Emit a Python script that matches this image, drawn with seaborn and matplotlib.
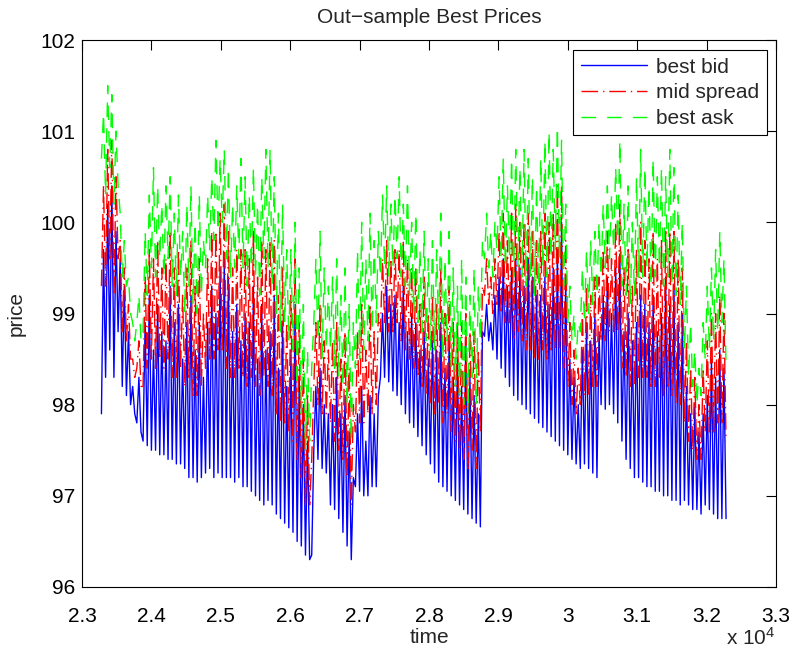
import numpy as np
import pandas as pd
import matplotlib
matplotlib.use("Agg")
import matplotlib.pyplot as plt
import seaborn as sns

# time grid: one sample every 30 time units, 301 samples
time = np.arange(301) * 30 + 23280

best_bid = [
    97.9, 99.7, 98.3, 100.2, 98.6, 100.4, 98.3, 99.9, 98.8, 99.6,
    98.2, 99.3, 98.1, 98.8, 98.0, 98.2, 97.9, 97.8, 98.3, 97.7,
    97.6, 98.9, 97.55, 99.2, 97.5, 98.6, 97.5, 99.1, 97.45, 98.8,
    97.45, 98.7, 97.4, 99.3, 97.4, 98.9, 97.35, 99.1, 97.35, 98.5,
    97.3, 98.9, 97.2, 99.2, 97.2, 98.6, 97.15, 98.9, 97.2, 98.3,
    97.25, 98.9, 97.3, 99.3, 97.2, 99.0, 97.25, 99.5, 97.2, 99.6,
    97.2, 99.4, 97.2, 98.8, 97.15, 99.1, 97.2, 98.7, 97.1, 99.0,
    97.1, 98.9, 97.05, 99.3, 97.0, 98.5, 96.95, 99.1, 96.9, 98.6,
    96.95, 98.8, 96.9, 99.2, 96.8, 98.4, 96.75, 98.9, 96.7, 98.2,
    96.65, 98.6, 96.6, 99.1, 96.5, 98.3, 96.45, 98.0, 96.35, 97.6,
    96.3, 96.35, 97.5, 98.2, 97.4, 98.4, 97.3, 98.0, 97.25, 97.9,
    96.9, 98.0, 96.85, 98.3, 96.75, 97.9, 96.6, 98.1, 96.45, 97.7,
    96.3, 97.2, 97.1, 97.9, 97.05, 98.2, 97.0, 97.6, 97.0, 98.1,
    97.1, 97.9, 97.1, 98.1, 98.3, 99.0, 98.3, 99.3, 98.25, 99.1,
    98.15, 99.2, 98.1, 98.9, 98.0, 99.3, 97.9, 98.8, 97.8, 99.0,
    97.75, 98.9, 97.65, 98.6, 97.55, 98.8, 97.45, 98.5, 97.35, 98.7,
    97.25, 98.6, 97.15, 98.9, 97.1, 98.4, 97.05, 98.7, 97.0, 98.3,
    96.95, 98.5, 96.9, 98.2, 96.85, 98.7, 96.8, 98.3, 96.75, 98.1,
    96.7, 97.9, 96.66, 98.8, 98.75, 99.1, 98.7, 98.9, 98.6, 99.2,
    98.5, 99.4, 98.4, 99.6, 98.3, 99.3, 98.2, 99.5, 98.1, 99.6,
    98.05, 99.5, 98.0, 99.3, 97.95, 99.6, 97.9, 99.4, 97.85, 99.2,
    97.8, 99.2, 97.75, 99.4, 97.7, 99.1, 97.65, 99.5, 97.6, 99.7,
    97.55, 100.0, 97.5, 99.4, 97.45, 98.5, 97.4, 98.3, 97.35, 98.0,
    97.3, 98.6, 97.35, 98.9, 97.3, 98.7, 97.25, 99.0, 97.2, 98.8,
    98.0, 99.2, 97.95, 99.4, 98.0, 99.0, 97.9, 99.5, 97.8, 99.65,
    97.6, 98.8, 97.4, 99.0, 97.3, 98.7, 97.2, 98.9, 97.2, 99.2,
    97.15, 99.1, 97.1, 98.9, 97.1, 99.2, 97.05, 98.8, 97.05, 99.0,
    97.0, 99.4, 97.0, 99.1, 96.95, 99.3, 96.95, 98.9, 96.9, 99.0,
    96.95, 98.2, 96.9, 97.9, 96.85, 98.0, 96.85, 97.7, 96.8, 97.9,
    96.9, 98.1, 96.85, 98.5, 96.8, 98.3, 96.75, 98.6, 96.75, 98.4,
    96.75,
]

mid_spread = [
    99.3, 100.4, 99.3, 100.8, 99.6, 100.9, 99.2, 100.5, 99.6, 99.8,
    98.8, 99.5, 98.7, 99.1, 98.5, 98.5, 98.3, 98.4, 98.7, 98.2,
    98.2, 99.4, 98.4, 99.7, 98.5, 99.6, 98.4, 99.8, 98.5, 99.5,
    98.4, 99.6, 98.5, 99.9, 98.3, 99.5, 98.3, 99.7, 98.4, 99.2,
    98.2, 99.5, 98.3, 99.8, 98.1, 99.3, 98.1, 99.6, 98.2, 99.0,
    98.4, 99.6, 98.5, 99.9, 98.5, 99.9, 98.6, 100.1, 98.6, 100.2,
    98.4, 99.9, 98.3, 99.5, 98.3, 99.7, 98.4, 99.7, 98.3, 99.7,
    98.2, 99.6, 98.3, 99.9, 98.2, 99.4, 98.1, 99.8, 98.3, 99.7,
    98.2, 99.8, 98.1, 99.8, 97.9, 99.2, 97.8, 99.5, 97.8, 98.9,
    97.7, 99.2, 97.6, 99.6, 97.4, 98.9, 97.2, 98.5, 96.9, 98.1,
    96.9, 97.4, 98.2, 98.9, 98.0, 99.1, 97.9, 98.7, 97.9, 98.6,
    97.8, 98.7, 97.6, 98.9, 97.5, 98.5, 97.4, 98.8, 97.2, 98.4,
    96.9, 98.0, 97.7, 98.8, 97.8, 99.1, 97.8, 98.6, 97.9, 99.1,
    97.9, 98.8, 98.0, 99.0, 98.8, 99.6, 98.9, 99.8, 98.8, 99.6,
    98.8, 99.7, 98.9, 99.7, 98.7, 99.8, 98.6, 99.6, 98.5, 99.5,
    98.4, 99.5, 98.3, 99.1, 98.2, 99.4, 98.1, 99.0, 98.0, 99.2,
    97.9, 99.1, 98.0, 99.5, 97.8, 99.0, 97.9, 99.3, 97.7, 98.9,
    97.6, 98.9, 97.5, 98.9, 97.4, 99.0, 97.3, 98.8, 97.5, 98.8,
    97.3, 98.6, 97.7, 99.3, 99.2, 99.6, 99.1, 99.4, 99.0, 99.6,
    99.1, 99.9, 99.0, 100.1, 98.9, 99.8, 98.9, 100.1, 98.7, 100.2,
    98.8, 100.0, 98.7, 100.0, 98.6, 100.1, 98.6, 99.9, 98.5, 99.8,
    98.5, 99.9, 98.6, 100.1, 98.5, 100.0, 98.6, 100.1, 98.6, 100.4,
    98.6, 100.4, 98.4, 99.8, 98.2, 98.9, 98.0, 98.6, 97.9, 98.4,
    98.0, 99.0, 98.1, 99.3, 98.1, 99.2, 98.2, 99.4, 98.2, 99.4,
    98.7, 99.7, 98.7, 99.9, 98.8, 99.6, 98.8, 100.0, 98.8, 100.2,
    98.4, 99.5, 98.3, 99.7, 98.2, 99.3, 98.2, 99.7, 98.3, 100.0,
    98.3, 99.8, 98.3, 99.6, 98.2, 99.9, 98.2, 99.6, 98.3, 99.8,
    98.1, 99.9, 98.2, 99.9, 98.1, 99.9, 98.0, 99.6, 98.0, 99.5,
    97.8, 98.7, 97.6, 98.4, 97.5, 98.3, 97.4, 98.0, 97.4, 98.4,
    97.7, 98.7, 97.7, 99.0, 97.7, 99.0, 97.8, 99.2, 97.8, 99.0,
    97.6,
]

best_ask = [
    100.7, 101.2, 100.3, 101.5, 100.6, 101.4, 100.2, 101.0, 100.4, 100.1,
    99.4, 99.8, 99.3, 99.4, 99.0, 98.9, 98.7, 98.9, 99.2, 98.7,
    98.8, 99.9, 99.2, 100.3, 99.5, 100.6, 99.4, 100.4, 99.6, 100.2,
    99.4, 100.4, 99.6, 100.5, 99.3, 100.1, 99.2, 100.3, 99.4, 99.9,
    99.0, 100.2, 99.3, 100.4, 99.1, 100.0, 99.0, 100.3, 99.2, 99.8,
    99.5, 100.3, 99.7, 100.5, 99.8, 100.9, 99.9, 100.7, 100.0, 100.8,
    99.6, 100.6, 99.4, 100.2, 99.5, 100.4, 99.6, 100.7, 99.5, 100.5,
    99.3, 100.3, 99.5, 100.6, 99.4, 100.2, 99.2, 100.5, 99.6, 100.8,
    99.5, 100.8, 99.3, 100.5, 99.0, 100.1, 98.8, 100.2, 98.9, 99.7,
    98.7, 99.7, 98.6, 100.0, 98.2, 99.5, 97.9, 99.1, 97.5, 98.6,
    97.6, 98.4, 98.9, 99.6, 98.7, 99.9, 98.5, 99.5, 98.6, 99.3,
    98.6, 99.4, 98.4, 99.6, 98.3, 99.2, 98.2, 99.5, 98.0, 99.1,
    97.6, 98.9, 98.4, 99.7, 98.5, 100.0, 98.6, 99.6, 98.7, 100.1,
    98.8, 99.8, 98.9, 99.9, 99.4, 100.3, 99.5, 100.4, 99.4, 100.2,
    99.5, 100.3, 99.6, 100.5, 99.4, 100.2, 99.3, 100.4, 99.2, 100.0,
    99.0, 100.1, 98.9, 99.7, 98.8, 99.9, 98.7, 99.6, 98.6, 99.8,
    98.6, 99.7, 98.8, 100.1, 98.5, 99.6, 98.7, 99.9, 98.4, 99.5,
    98.2, 99.3, 98.1, 99.6, 98.0, 99.4, 97.9, 99.2, 98.3, 99.5,
    98.0, 99.3, 98.7, 99.8, 99.6, 100.1, 99.5, 99.9, 99.4, 100.0,
    99.7, 100.5, 99.6, 100.7, 99.5, 100.4, 99.6, 100.7, 99.4, 100.8,
    99.5, 100.6, 99.4, 100.8, 99.3, 100.7, 99.4, 100.5, 99.2, 100.4,
    99.3, 100.7, 99.5, 100.9, 99.4, 101.0, 99.6, 100.8, 99.7, 101.05,
    99.6, 100.9, 99.3, 100.2, 98.9, 99.3, 98.7, 99.0, 98.5, 98.9,
    98.8, 99.5, 98.9, 99.7, 99.0, 99.8, 99.1, 99.9, 99.2, 100.0,
    99.4, 100.2, 99.5, 100.4, 99.6, 100.3, 99.7, 100.6, 99.8, 100.9,
    99.3, 100.2, 99.2, 100.4, 99.1, 100.0, 99.2, 100.5, 99.4, 100.8,
    99.4, 100.6, 99.5, 100.4, 99.3, 100.7, 99.4, 100.5, 99.5, 100.6,
    99.3, 100.5, 99.4, 100.8, 99.3, 100.6, 99.2, 100.3, 99.1, 100.0,
    98.6, 99.3, 98.3, 98.9, 98.2, 98.6, 98.0, 98.4, 98.1, 98.9,
    98.5, 99.3, 98.6, 99.5, 98.7, 99.7, 98.8, 99.9, 98.9, 99.6,
    98.4,
]

sns.set_style("white")
plt.rcParams['font.family'] = ['Liberation Sans', 'DejaVu Sans']
plt.rcParams['mathtext.default'] = 'regular'
plt.rcParams['lines.scale_dashes'] = False

fig = plt.figure(figsize=(7.93, 6.55), dpi=100)
ax = fig.add_axes([82 / 793, 1 - 587 / 655, 694 / 793, 547 / 655])

sns.lineplot(x=time, y=best_bid, ax=ax, color='#0000ff', linewidth=1.0,
             label='best bid', sort=False, errorbar=None)
sns.lineplot(x=time, y=mid_spread, ax=ax, color='#ff0000', linewidth=1.0,
             linestyle=(0, (12, 3.5, 1, 3.5)), label='mid spread', sort=False, errorbar=None)
sns.lineplot(x=time, y=best_ask, ax=ax, color='#00ff00', linewidth=1.0,
             linestyle=(0, (10.5, 8)), label='best ask', sort=False, errorbar=None)

ax.set_xlim(23000, 33000)
ax.set_ylim(96, 102)
ax.set_xticks(np.arange(23000, 33001, 1000))
ax.set_xticklabels([f"{v / 1e4:g}" for v in np.arange(23000, 33001, 1000)])
ax.set_yticks(np.arange(96, 103, 1))
ax.tick_params(direction='in', top=True, right=True, length=7, width=0.8,
               labelsize=15, colors='black')
ax.tick_params(axis='x', pad=14.5)
ax.tick_params(axis='y', pad=5)
for sp in ax.spines.values():
    sp.set_color('black')
    sp.set_linewidth(0.8)

ax.set_title('Out−sample Best Prices', fontsize=15, pad=12.5)
ax.set_xlabel('time', fontsize=15, labelpad=1.5)
ax.set_ylabel('price', fontsize=15, labelpad=10)
fig.text(775 / 793, 1 - 645 / 655, 'x 10$^{4}$', ha='right', va='baseline', fontsize=15)

leg = ax.legend(loc='upper right', bbox_to_anchor=(0.987, 0.9817), borderaxespad=0,
                fontsize=15, handlelength=3.2, handletextpad=0.43, labelspacing=0.32,
                borderpad=0.36, fancybox=False, framealpha=1, edgecolor='black')
leg.get_frame().set_linewidth(0.8)

fig.savefig('out.png', dpi=100)
